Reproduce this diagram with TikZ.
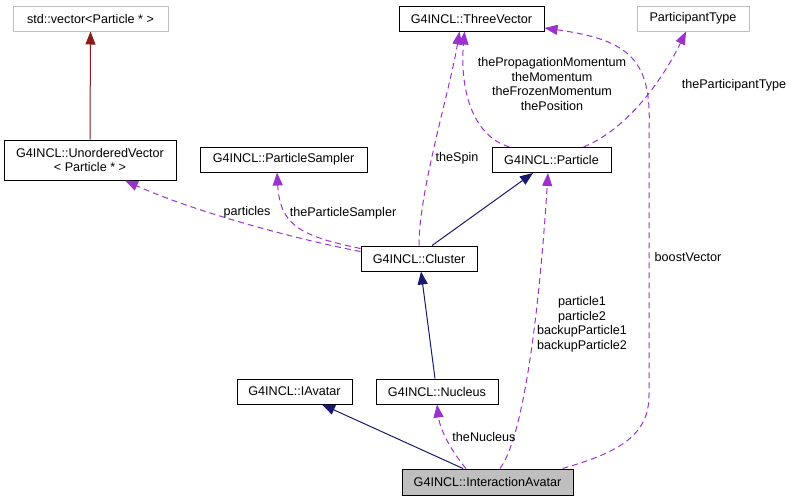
\documentclass[tikz,border=0pt]{standalone}
\usepackage{fontspec}
\setmainfont{Liberation Sans}
\usetikzlibrary{arrows.meta}
\definecolor{edgepurple}{HTML}{9A32CD}
\definecolor{edgenavy}{HTML}{191970}
\definecolor{edgered}{HTML}{8B1A1A}
\definecolor{boxgray}{HTML}{BFBFBF}
\tikzset{
  cls/.style={draw=black, line width=1pt, inner sep=0pt, minimum height=25pt, align=center, font=\fontsize{12.6}{14.5}\selectfont},
  ext/.style={cls, draw=boxgray},
  lbl/.style={inner sep=0pt, align=center, font=\fontsize{12.6}{14.5}\selectfont},
  inherit/.style={line width=1pt, draw=edgenavy, -{Triangle[length=13pt,width=10pt,fill=edgenavy]}},
  uses/.style={line width=1pt, draw=edgepurple, dash pattern=on 6pt off 4pt, -{Triangle[length=13pt,width=10pt,fill=edgepurple]}},
  templ/.style={line width=1pt, draw=edgered, -{Triangle[length=13pt,width=10pt,fill=edgered]}}
}
\begin{document}
\begin{tikzpicture}[x=1pt, y=-1pt]
\useasboundingbox (0,0) rectangle (795,501);
\node[ext, minimum width=155pt] (C_vec) at (90.5,18.5) {std::vector<Particle * >};
\node[cls, minimum width=172pt, minimum height=40pt] (C_uvec) at (90,160) {G4INCL::UnorderedVector\\< Particle * >};
\node[cls, minimum width=167pt] (C_sampler) at (283.5,159.5) {G4INCL::ParticleSampler};
\node[cls, minimum width=145pt] (C_three) at (471.5,18.5) {G4INCL::ThreeVector};
\node[ext, minimum width=112pt] (C_ptype) at (693,18.5) {ParticipantType};
\node[cls, minimum width=119pt] (C_particle) at (551.5,160) {G4INCL::Particle};
\node[cls, minimum width=116pt] (C_cluster) at (419,258.5) {G4INCL::Cluster};
\node[cls, minimum width=115pt] (C_iavatar) at (294.5,391.5) {G4INCL::IAvatar};
\node[cls, minimum width=122pt] (C_nucleus) at (437,391.5) {G4INCL::Nucleus};
\node[cls, fill=boxgray, minimum width=171pt, minimum height=26pt] (C_inter) at (487.5,482) {G4INCL::InteractionAvatar};
% template and inheritance
\draw[templ] (C_uvec.north) -- (C_vec.south);
\draw[inherit] ([xshift=13pt]C_cluster.north) -- ([xshift=-18.5pt]C_particle.south);
\draw[inherit] ([xshift=-2pt]C_nucleus.north) -- ([xshift=2pt]C_cluster.south);
\draw[inherit] ([xshift=-24.5pt]C_inter.north) -- ([xshift=27.5pt]C_iavatar.south);
% members
\draw[uses] ([yshift=-6pt]C_cluster.north west) .. controls (290,238) and (190,210) .. ([xshift=35pt]C_uvec.south);
\node[lbl] (L_particles) at (247,212) {particles};
\draw[uses] ([yshift=-3pt]C_cluster.north west) .. controls (300,236) and (280,225) .. ([xshift=-6.5pt]C_sampler.south);
\node[lbl] (L_sampler) at (343,213) {theParticleSampler};
\draw[uses] (C_cluster.north) .. controls (419,190) and (450,90) .. ([xshift=-12pt]C_three.south);
\node[lbl] (L_spin) at (457,158) {theSpin};
\draw[uses] ([xshift=18pt]C_particle.north west) .. controls (470,135) and (460,85) .. ([xshift=-7pt]C_three.south);
\node[lbl] (L_momenta) at (552,84) {thePropagationMomentum\\theMomentum\\theFrozenMomentum\\thePosition};
\draw[uses] ([xshift=-28pt]C_particle.north east) .. controls (630,128) and (665,75) .. ([xshift=-7pt]C_ptype.south);
\node[lbl] (L_ptype) at (734,85) {theParticipantType};
\draw[uses] ([xshift=12.5pt]C_inter.north) .. controls (525,435) and (540,300) .. ([xshift=-3.5pt]C_particle.south);
\node[lbl] (L_parts) at (582,324) {particle1\\particle2\\backupParticle1\\backupParticle2};
\draw[uses] ([xshift=-11pt]C_inter.north east) .. controls (620,452) and (649,435) .. (649,395) -- (649,130) .. controls (652,60) and (630,40) .. ([yshift=-9.5pt]C_three.east);
\node[lbl] (L_boost) at (688,257) {boostVector};
\draw[uses] ([xshift=-21.5pt]C_inter.north) .. controls (452,452) and (440,430) .. (C_nucleus.south);
\node[lbl] (L_nucleus) at (484,437) {theNucleus};
\end{tikzpicture}
\end{document}
